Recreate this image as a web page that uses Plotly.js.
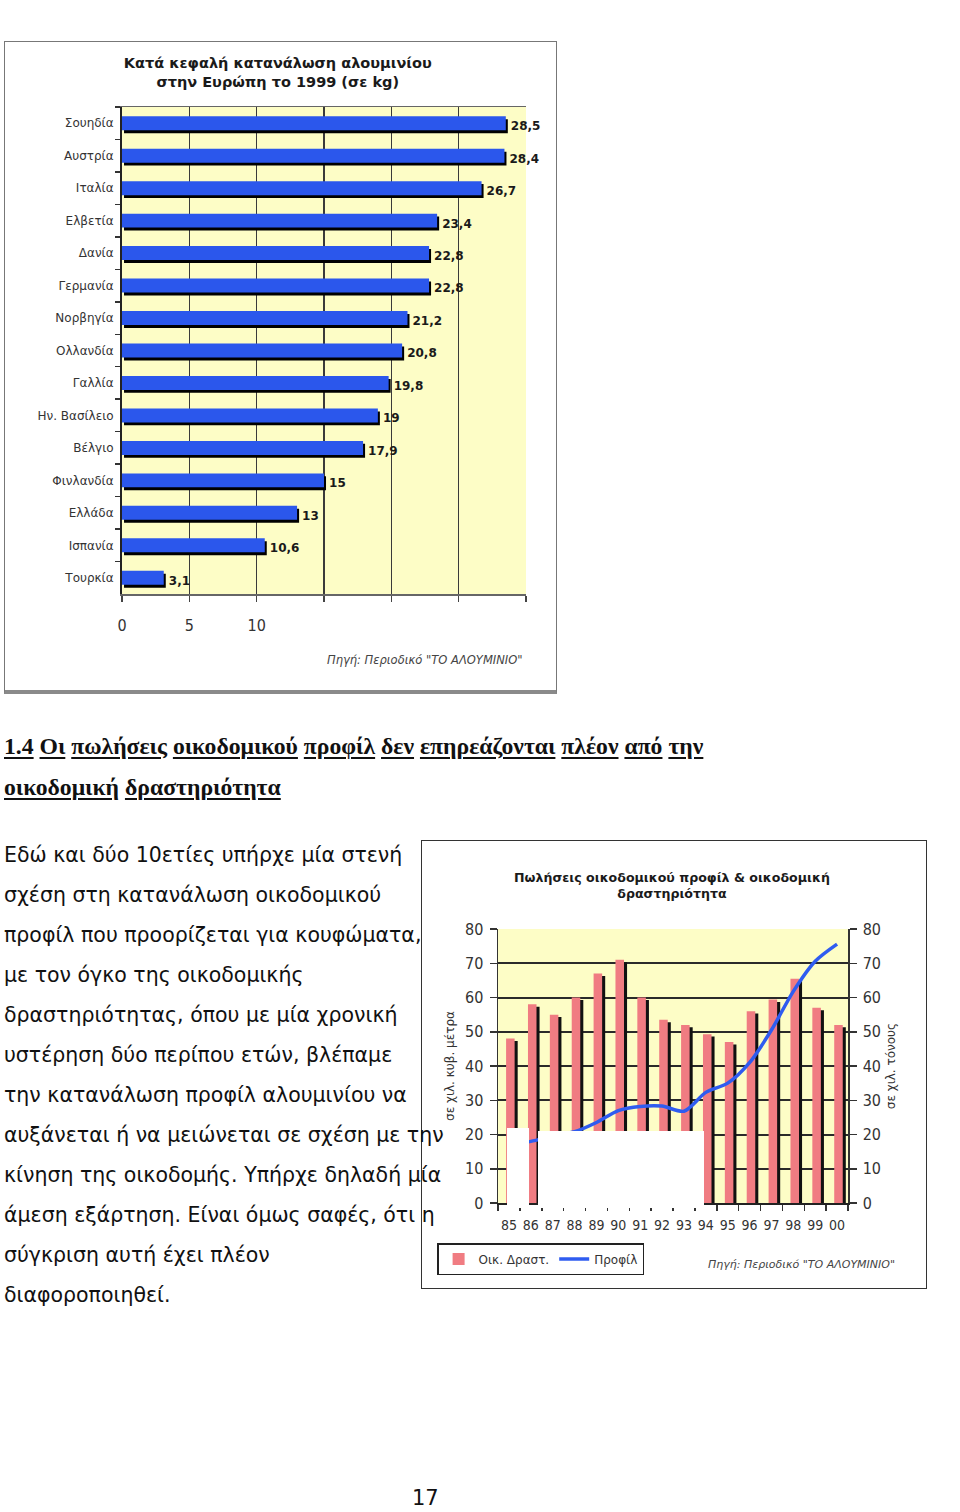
<!DOCTYPE html>
<html>
<head>
<meta charset="utf-8">
<script src="https://cdn.plot.ly/plotly-3.0.1.min.js"></script>
<style>
  html, body { margin:0; padding:0; background:#fff; }
  body { width:960px; height:1512px; position:relative; overflow:hidden; }
  .abs { position:absolute; }
  .frame1 { left:4px; top:41px; width:551px; height:648px; border:1px solid #777; border-bottom:4px solid #8a8a8a; }
  .frame2 { left:421px; top:840px; width:504px; height:447px; border:1.5px solid #333; }
  .heading { left:4px; font-family:"Liberation Serif","DejaVu Serif",serif; font-weight:bold; font-size:23.7px; color:#111; line-height:41px; white-space:nowrap; }
  .heading u { text-decoration:underline; text-decoration-thickness:2px; text-underline-offset:3px; }
  .body { left:4px; font-family:"DejaVu Sans",Verdana,sans-serif; font-size:20.5px; color:#111; line-height:40px; white-space:nowrap; z-index:5; }
  .pnum { left:412px; top:1486px; font-family:"DejaVu Sans",sans-serif; font-size:21px; color:#111; }
  .wbox { background:#fff; z-index:4; }
</style>
</head>
<body>
<div class="abs frame1"></div>
<div id="c1" class="abs" style="left:4px;top:41px;width:553px;height:653px;"></div>
<div class="abs frame2"></div>
<div id="c2" class="abs" style="left:421px;top:840px;width:506px;height:449px;"></div>

<div class="abs wbox" style="left:507px;top:1128px;width:22px;height:80px;"></div>
<div class="abs wbox" style="left:538px;top:1131px;width:166px;height:77px;"></div>

<div class="abs heading" style="top:726px;">
<u>1.4</u> <u>Οι</u> <u>πωλήσεις</u> <u>οικοδομικού</u> <u>προφίλ</u> <u>δεν</u> <u>επηρεάζονται</u> <u>πλέον</u> <u>από</u> <u>την</u><br>
<u>οικοδομική</u> <u>δραστηριότητα</u>
</div>

<div class="abs body" style="top:835px;">
Εδώ και δύο 10ετίες υπήρχε μία στενή<br>
σχέση στη κατανάλωση οικοδομικού<br>
προφίλ που προορίζεται για κουφώματα,<br>
με τον όγκο της οικοδομικής<br>
δραστηριότητας, όπου με μία χρονική<br>
υστέρηση δύο περίπου ετών, βλέπαμε<br>
την κατανάλωση προφίλ αλουμινίου να<br>
αυξάνεται ή να μειώνεται σε σχέση με την<br>
κίνηση της οικοδομής. Υπήρχε δηλαδή μία<br>
άμεση εξάρτηση. Είναι όμως σαφές, ότι η<br>
σύγκριση αυτή έχει πλέον<br>
διαφοροποιηθεί.
</div>

<div class="abs pnum">17</div>

<script>
// ---------- Chart 1 data ----------
const countries = ["Σουηδία","Αυστρία","Ιταλία","Ελβετία","Δανία","Γερμανία","Νορβηγία","Ολλανδία","Γαλλία","Ην. Βασίλειο","Βέλγιο","Φινλανδία","Ελλάδα","Ισπανία","Τουρκία"];
const consumptionKg = [28.5, 28.4, 26.7, 23.4, 22.8, 22.8, 21.2, 20.8, 19.8, 19, 17.9, 15, 13, 10.6, 3.1];
const xTickVals1 = [0, 5, 10, 15, 20, 25, 30];
const xTickText1 = ["0", "5", "10", "", "", "", ""];

// ---------- Chart 2 data ----------
const years = ["85","86","87","88","89","90","91","92","93","94","95","96","97","98","99","00"];
const buildingActivity = [48, 58, 55, 60, 67, 71, 60, 53.5, 52, 49.3, 47, 56, 59.4, 65.5, 57, 52];
const profileSales = [17, 18, 19.5, 20.8, 23.5, 27, 28.2, 28.3, 26.8, 32.3, 35, 41, 50.5, 61.8, 70.6, 75.6];
const yTickVals2 = [0, 10, 20, 30, 40, 50, 60, 70, 80];

const narrow = "DejaVu Sans Condensed, Liberation Sans Narrow, DejaVu Sans, sans-serif";

// ---------- Chart 1 ----------
const labels1 = consumptionKg.map(v => String(v).replace('.', ','));
const shadow1 = {
  type: 'bar', orientation: 'h', y: countries, x: consumptionKg, base: 0.15,
  width: 0.43, offset: -0.125, marker: { color: '#000', line: { width: 0 } },
  text: labels1, textposition: 'outside', constraintext: 'none', cliponaxis: false,
  textfont: { family: 'DejaVu Sans, sans-serif', size: 12, color: '#1a1a1a', weight: 'bold' },
  hoverinfo: 'skip', showlegend: false
};
const bars1 = {
  type: 'bar', orientation: 'h', y: countries, x: consumptionKg,
  width: 0.43, offset: -0.215, marker: { color: '#2b57ec', line: { width: 0 } },
  showlegend: false
};
const layout1 = {
  width: 553, height: 653,
  margin: { l: 118, r: 31, t: 66, b: 100 },
  paper_bgcolor: 'rgba(0,0,0,0)', plot_bgcolor: '#fdfdc6',
  barmode: 'overlay', showlegend: false,
  title: { text: 'Κατά κεφαλή κατανάλωση αλουμινίου<br>στην Ευρώπη το 1999 (σε kg)',
           font: { family: 'DejaVu Sans, sans-serif', size: 14.5, color: '#1a1a1a', weight: 'bold' },
           x: 0.495, xref: 'container', y: 0.958, yref: 'container', yanchor: 'middle' },
  xaxis: { range: [0, 30], tickvals: xTickVals1, ticktext: xTickText1,
           showgrid: true, gridcolor: '#3a3a3a', gridwidth: 1.5, zeroline: false,
           ticks: 'outside', ticklen: 6, tickcolor: '#444', tickwidth: 1.5,
           showline: true, linecolor: '#666', linewidth: 1.5, mirror: true,
           ticklabelstandoff: 10, tickangle: 0,
           tickfont: { family: narrow, size: 16, color: '#333' } },
  yaxis: { type: 'category', autorange: 'reversed', tickson: 'boundaries',
           ticks: 'outside', ticklen: 5, tickcolor: '#333', tickwidth: 1.5,
           showline: true, linecolor: '#222', linewidth: 2, showgrid: false,
           ticklabelstandoff: 4,
           tickfont: { family: 'DejaVu Sans, sans-serif', size: 12, color: '#333' } },
  annotations: [{
    text: 'Πηγή: Περιοδικό "ΤΟ ΑΛΟΥΜΙΝΙΟ"', xref: 'paper', yref: 'paper',
    x: 0.9975, y: -0.1355, xanchor: 'right', yanchor: 'middle', showarrow: false,
    font: { family: 'DejaVu Sans, sans-serif', size: 11.5, color: '#444', style: 'italic' }
  }]
};
Plotly.newPlot('c1', [shadow1, bars1], layout1, { displayModeBar: false, staticPlot: true });

// ---------- Chart 2 ----------
const shadow2 = {
  type: 'bar', x: years, y: buildingActivity, base: -0.7,
  width: 0.39, offset: 0.01, marker: { color: '#111', line: { width: 0 } },
  hoverinfo: 'skip', showlegend: false
};
const bars2 = {
  type: 'bar', name: 'Οικ. Δραστ.', x: years, y: buildingActivity,
  width: 0.39, offset: -0.13, marker: { color: '#f07c82', line: { width: 0 } }
};
const line2 = {
  type: 'scatter', mode: 'lines', name: 'Προφίλ', x: years, y: profileSales, yaxis: 'y2',
  line: { color: '#2f5cf0', width: 3.5, shape: 'spline', smoothing: 0.8 }
};
const layout2 = {
  width: 506, height: 449,
  margin: { l: 77, r: 79, t: 89, b: 86 },
  paper_bgcolor: 'rgba(0,0,0,0)', plot_bgcolor: '#fdfdc6',
  barmode: 'overlay',
  title: { text: 'Πωλήσεις οικοδομικού προφίλ & οικοδομική<br>δραστηριότητα',
           font: { family: 'DejaVu Sans, sans-serif', size: 12.6, color: '#1a1a1a', weight: 'bold' },
           x: 0.496, xref: 'container', y: 0.907, yref: 'container', yanchor: 'middle' },
  xaxis: { type: 'category', tickson: 'boundaries', ticks: 'outside', ticklen: 6,
           tickcolor: '#333', tickwidth: 1.5, showline: true, linecolor: '#222', linewidth: 2,
           showgrid: false, ticklabelstandoff: 8, tickangle: 0,
           tickfont: { family: narrow, size: 14, color: '#333' } },
  yaxis: { range: [0, 80], tickvals: yTickVals2, showgrid: true, gridcolor: '#2a2a2a', gridwidth: 2,
           zeroline: false, ticks: 'outside', ticklen: 7, tickcolor: '#333', tickwidth: 1.5,
           showline: true, linecolor: '#333', linewidth: 1.5, ticklabelstandoff: 3,
           tickfont: { family: narrow, size: 16, color: '#333' },
           title: { text: 'σε χιλ. κυβ. μέτρα', standoff: 8,
                    font: { family: 'DejaVu Sans, sans-serif', size: 12, color: '#333' } } },
  yaxis2: { range: [0, 80], tickvals: yTickVals2, overlaying: 'y', side: 'right',
            showgrid: false, zeroline: false, ticks: 'outside', ticklen: 7, tickcolor: '#333', tickwidth: 1.5,
            showline: true, linecolor: '#333', linewidth: 1.5, ticklabelstandoff: 3,
            tickfont: { family: narrow, size: 16, color: '#333' },
            title: { text: 'σε χιλ. τόνους', standoff: 6,
                     font: { family: 'DejaVu Sans, sans-serif', size: 12, color: '#333' } } },
  showlegend: true,
  legend: { orientation: 'h', x: -0.174, xanchor: 'left', y: -0.146, yanchor: 'top',
            bgcolor: '#fff', bordercolor: '#222', borderwidth: 1.5,
            font: { family: 'DejaVu Sans, sans-serif', size: 12, color: '#333' },
            traceorder: 'normal', itemwidth: 30 },
  annotations: [{
    text: 'Πηγή: Περιοδικό "ΤΟ ΑΛΟΥΜΙΝΙΟ"', xref: 'paper', yref: 'paper',
    x: 1.14, y: -0.226, xanchor: 'right', yanchor: 'middle', showarrow: false,
    font: { family: 'DejaVu Sans, sans-serif', size: 11, color: '#444', style: 'italic' }
  }]
};
Plotly.newPlot('c2', [shadow2, bars2, line2], layout2, { displayModeBar: false, staticPlot: true });
</script>
</body>
</html>
